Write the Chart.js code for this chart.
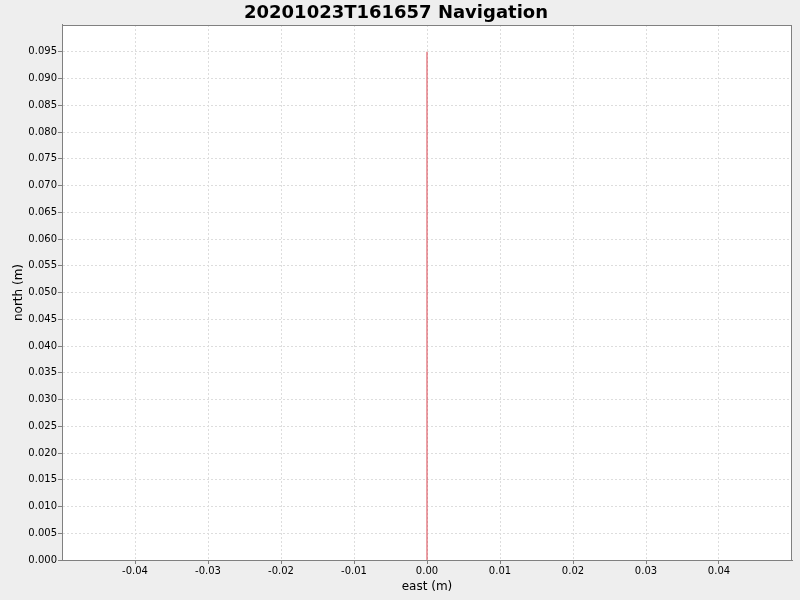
<!DOCTYPE html>
<html>
<head>
<meta charset="utf-8">
<script src="https://cdn.jsdelivr.net/npm/chart.js@4/dist/chart.umd.min.js"></script>
<style>
  html, body { margin: 0; padding: 0; background: #eeeeee; }
  #wrap { width: 800px; height: 600px; }
</style>
</head>
<body>
<div id="wrap"><canvas id="nav"></canvas></div>
<script>
// track data (east / north in metres)
const eastValues = [0, 0];
const northValues = [0, 0.095];
const xTickMin = -0.05, xTickMax = 0.05, xStep = 0.01;
const yTickMin = 0, yTickMax = 0.1, yStep = 0.005;
const chartTitle = '20201023T161657 Navigation';

const points = eastValues.map((e, i) => ({ x: e, y: northValues[i] }));

// background + white plot area + plot border
const plotBg = {
  id: 'plotBg',
  beforeDraw(chart) {
    const { ctx, chartArea: a } = chart;
    ctx.save();
    ctx.fillStyle = '#eeeeee';
    ctx.fillRect(0, 0, chart.width, chart.height);
    ctx.fillStyle = '#ffffff';
    ctx.fillRect(a.left, a.top, a.right - a.left, a.bottom - a.top);
    ctx.restore();
  },
  afterDraw(chart) {
    const { ctx, chartArea: a } = chart;
    ctx.save();
    ctx.strokeStyle = '#808080';
    ctx.lineWidth = 1;
    ctx.strokeRect(a.left + 0.5, a.top + 0.5, a.right - a.left - 1, a.bottom - a.top);
    ctx.restore();
  }
};

const gridOpts = {
  color: '#dddddd',
  lineWidth: 1,
  tickColor: '#808080',
  tickLength: 4,
  tickBorderDash: [],
  drawTicks: true
};

new Chart(document.getElementById('nav'), {
  type: 'scatter',
  data: {
    datasets: [{
      label: 'track',
      data: points,
      showLine: true,
      borderColor: '#d8404c',
      backgroundColor: '#d8404c',
      borderWidth: 1,
      pointRadius: 0,
      tension: 0
    }]
  },
  options: {
    responsive: true,
    maintainAspectRatio: false,
    animation: false,
    layout: { padding: { left: 0, right: 8, top: 0, bottom: 0 } },
    plugins: {
      legend: { display: false },
      tooltip: { enabled: false },
      title: {
        display: true,
        text: chartTitle,
        color: '#000000',
        font: { family: 'DejaVu Sans', size: 18, weight: 'bold' },
        padding: { top: 3, bottom: 0.4 }
      }
    },
    scales: {
      x: {
        type: 'linear',
        min: xTickMin,
        max: xTickMax,
        afterFit: s => { s.height = 40; },
        afterBuildTicks: s => {
          s.ticks = s.ticks.filter(t => Math.abs(t.value) < 0.0499);
        },
        ticks: {
          stepSize: xStep,
          autoSkip: false,
          maxRotation: 0,
          padding: 1,
          color: '#000000',
          font: { family: 'DejaVu Sans', size: 10 },
          callback: v => Math.abs(v) < 1e-9 ? '0.00' : v.toFixed(2)
        },
        grid: Object.assign({ borderDash: [2, 2] }, gridOpts),
        border: { color: '#808080', width: 1, dash: [2, 2] },
        title: {
          display: true,
          text: 'east (m)',
          color: '#000000',
          font: { family: 'DejaVu Sans', size: 12 },
          padding: { top: 0, bottom: 6 }
        }
      },
      y: {
        type: 'linear',
        min: yTickMin,
        max: yTickMax,
        afterFit: s => { s.width = 62; },
        afterBuildTicks: s => {
          s.ticks = s.ticks.filter(t => t.value < 0.0999);
        },
        ticks: {
          stepSize: yStep,
          autoSkip: false,
          padding: 1,
          color: '#000000',
          font: { family: 'DejaVu Sans', size: 10 },
          callback: v => v.toFixed(3)
        },
        grid: gridOpts,
        border: { color: '#808080', width: 1, dash: [2, 2] },
        title: {
          display: true,
          text: 'north (m)',
          color: '#000000',
          font: { family: 'DejaVu Sans', size: 12 },
          padding: { top: 12, bottom: 0 }
        }
      }
    }
  },
  plugins: [plotBg]
});
</script>
</body>
</html>
